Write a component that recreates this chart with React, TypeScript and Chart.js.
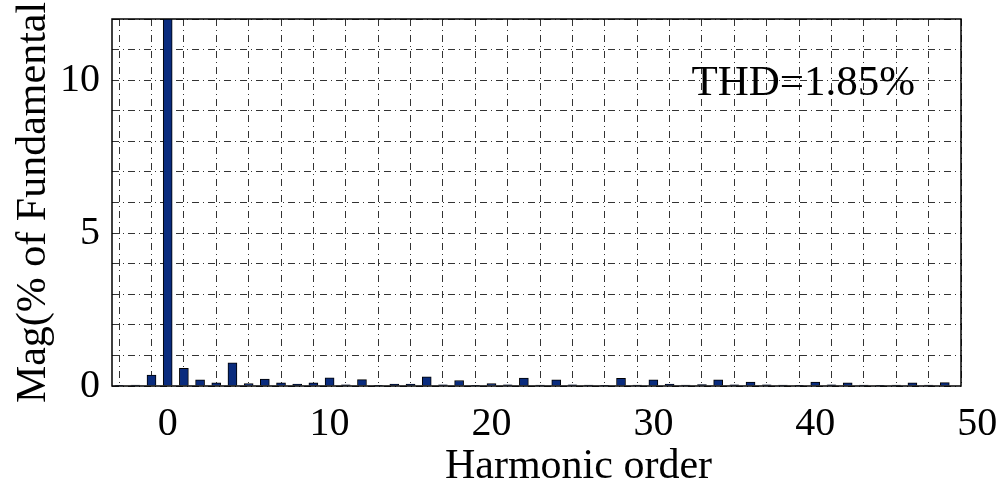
import React, { useEffect, useRef } from "react";
import { Chart, registerables } from "chart.js";

Chart.register(...registerables);

// ---- data ----
const harmonicOrders: number[] = [
  -3, -2, -1, 0, 1, 2, 3, 4, 5, 6, 7, 8, 9, 10, 11, 12, 13, 14, 15, 16, 17, 18, 19, 20,
  21, 22, 23, 24, 25, 26, 27, 28, 29, 30, 31, 32, 33, 34, 35, 36, 37, 38, 39, 40, 41,
  42, 43, 44, 45, 46, 47, 48,
];
const magnitudes: number[] = [
  0.02, 0.03, 0.36, 100, 0.58, 0.2, 0.1, 0.76, 0.08, 0.23, 0.1, 0.06, 0.1, 0.27, 0.04,
  0.21, 0.02, 0.06, 0.06, 0.3, 0.04, 0.18, 0.02, 0.08, 0.04, 0.26, 0.03, 0.2, 0.04,
  0.03, 0.01, 0.25, 0.03, 0.2, 0.06, 0.03, 0.05, 0.2, 0.04, 0.13, 0.04, 0.03, 0.01,
  0.13, 0.04, 0.1, 0.03, 0.02, 0.03, 0.1, 0.03, 0.11,
];
const xTickLabels: number[] = [0, 10, 20, 30, 40, 50];
const yTickLabels: number[] = [0, 5, 10];
const xRange: [number, number] = [-3.44, 49];
const yRange: [number, number] = [0, 12];
const thdText = "THD=1.85%";
const thdAnchor: [number, number] = [32.35, 9.52];
const xTitle = "        Harmonic order";
const yTitle = "Mag(% of Fundamental";

const FONT = '"Liberation Serif", "Times New Roman", serif';
const BAR_COLOR = "#0a2c7e";
const GRID_COLOR = "#333";
const GRID_DASH = [7, 4, 1, 4];

const framePlugin = {
  id: "frameAndThd",
  afterDatasetsDraw(chart: any) {
    const { ctx, chartArea, scales } = chart;
    ctx.save();
    ctx.font = `43px ${FONT}`;
    ctx.fillStyle = "#000";
    ctx.textAlign = "left";
    ctx.textBaseline = "alphabetic";
    ctx.fillText(
      thdText,
      scales.x.getPixelForValue(thdAnchor[0]),
      scales.y.getPixelForValue(thdAnchor[1])
    );
    ctx.lineWidth = 1.5;
    ctx.strokeStyle = "#000";
    ctx.strokeRect(chartArea.left, chartArea.top, chartArea.right - chartArea.left, chartArea.bottom - chartArea.top);
    ctx.restore();
  },
};

export default function App() {
  const ref = useRef<HTMLCanvasElement | null>(null);

  useEffect(() => {
    if (!ref.current) return;
    const data = harmonicOrders.map((h, i) => ({ x: h, y: magnitudes[i] }));
    const chart = new Chart(ref.current, {
      type: "bar",
      data: {
        datasets: [
          {
            data: data as any,
            backgroundColor: BAR_COLOR,
            borderColor: "#000",
            borderWidth: 1,
            barThickness: 9,
          },
        ],
      },
      options: {
        animation: false,
        responsive: false,
        maintainAspectRatio: false,
        layout: { padding: { left: 0, top: 19, right: 39, bottom: 0 } },
        plugins: { legend: { display: false }, tooltip: { enabled: false } },
        scales: {
          x: {
            type: "linear",
            offset: false,
            min: xRange[0],
            max: xRange[1],
            afterBuildTicks: (scale: any) => {
              const ticks = [];
              for (let v = -3; v <= 50; v++) ticks.push({ value: v });
              scale.ticks = ticks;
            },
            afterFit: (scale: any) => {
              scale.height = 106;
              scale.paddingLeft = 0;
              scale.paddingRight = 0;
            },
            ticks: {
              autoSkip: false,
              maxRotation: 0,
              padding: 14,
              color: "#000",
              font: { family: FONT, size: 40 },
              callback: (v: any) => (xTickLabels.includes(Number(v)) ? String(v) : ""),
            },
            grid: {
              offset: false,
              drawTicks: false,
              lineWidth: 1,
              color: (c: any) =>
                c.tick && Math.abs(c.tick.value % 2) === 1 ? GRID_COLOR : "rgba(0,0,0,0)",
            },
            border: { display: false, dash: GRID_DASH },
            title: {
              display: true,
              text: xTitle,
              color: "#000",
              font: { family: FONT, size: 42 },
              padding: { top: 0, bottom: 0 },
            },
          },
          y: {
            type: "linear",
            min: yRange[0],
            max: yRange[1],
            afterBuildTicks: (scale: any) => {
              const ticks = [];
              for (let v = yRange[0]; v <= yRange[1]; v++) ticks.push({ value: v });
              scale.ticks = ticks;
            },
            afterFit: (scale: any) => {
              scale.width = 112;
              scale.paddingTop = 0;
              scale.paddingBottom = 0;
            },
            ticks: {
              autoSkip: false,
              padding: 12,
              color: "#000",
              font: { family: FONT, size: 40 },
              callback: (v: any) => (yTickLabels.includes(Number(v)) ? String(v) : ""),
            },
            grid: {
              drawTicks: false,
              lineWidth: 1,
              color: GRID_COLOR,
            },
            border: { display: false, dash: GRID_DASH },
            title: {
              display: true,
              text: yTitle,
              color: "#000",
              font: { family: FONT, size: 42 },
              padding: { top: 9, bottom: 0 },
            },
          },
        },
      },
      plugins: [framePlugin],
    });
    return () => chart.destroy();
  }, []);

  return (
    <div style={{ position: "fixed", left: 0, top: 0, width: 1000, height: 492, background: "#fff" }}>
      <canvas ref={ref} width={1000} height={492} style={{ display: "block" }} />
    </div>
  );
}
